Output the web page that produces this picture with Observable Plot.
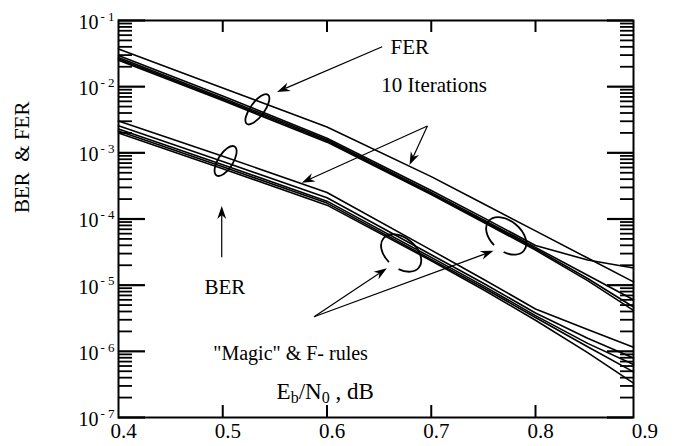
<!DOCTYPE html>
<html><head><meta charset="utf-8">
<script src="https://cdn.jsdelivr.net/npm/d3@7"></script>
<script src="https://cdn.jsdelivr.net/npm/@observablehq/plot@0.6"></script>
<style>
html,body{margin:0;padding:0;background:#fff;}
#chart svg{display:block;}
</style></head><body><div id="chart"></div>
<script>
// ---- data ----
const ebn0 = [0.4, 0.5, 0.6, 0.7, 0.75, 0.8, 0.85, 0.894];
const fer1 = [3.72e-2, 9.55e-3, 2.45e-3, 4.37e-4, 1.70e-4, 6.61e-5, 2.57e-5, 1.12e-5];
const fer2 = [2.95e-2, 7.24e-3, 1.66e-3, 2.69e-4, 1.05e-4, 3.98e-5, 2.40e-5, 1.82e-5];
const fer3 = [2.75e-2, 6.76e-3, 1.58e-3, 2.51e-4, 9.77e-5, 3.72e-5, 1.41e-5, 6.03e-6];
const fer4 = [2.63e-2, 6.46e-3, 1.51e-3, 2.40e-4, 9.33e-5, 3.55e-5, 1.26e-5, 4.68e-6];
const fer5 = [2.51e-2, 6.17e-3, 1.45e-3, 2.34e-4, 8.91e-5, 3.39e-5, 1.17e-5, 4.17e-6];
const ber1 = [3.02e-3, 8.91e-4, 2.51e-4, 3.39e-5, 1.23e-5, 4.37e-6, 2.14e-6, 1.15e-6];
const ber2 = [2.57e-3, 7.41e-4, 2.09e-4, 2.88e-5, 1.07e-5, 3.80e-6, 1.58e-6, 7.94e-7];
const ber3 = [2.29e-3, 6.61e-4, 1.86e-4, 2.63e-5, 9.77e-6, 3.47e-6, 1.32e-6, 6.31e-7];
const ber4 = [2.14e-3, 6.17e-4, 1.74e-4, 2.45e-5, 9.12e-6, 3.24e-6, 1.17e-6, 4.90e-7];
const ber5 = [2.00e-3, 5.75e-4, 1.62e-4, 2.34e-5, 8.51e-6, 2.95e-6, 9.55e-7, 3.31e-7];

const xDomain = [0.4, 0.894];
const yDomain = [1e-7, 1e-1];
const xTickValues = [0.4, 0.5, 0.6, 0.7, 0.8, 0.9];
const xTickLabels = ["0.4", "0.5", "0.6", "0.7", "0.8", "0.9"];
const xInnerTicks = [0.5, 0.6, 0.7, 0.8];
const yDecades = [1e-7, 1e-6, 1e-5, 1e-4, 1e-3, 1e-2, 1e-1];
const yExpLabels = ["- 7", "- 6", "- 5", "- 4", "- 3", "- 2", "- 1"];
const minorMultipliers = [2, 3, 4, 5, 6, 7, 8, 9];

// annotations
const noteTexts = ["FER", "10 Iterations", "BER", "\"Magic\" & F- rules"];
const noteX = [0.661, 0.6521, 0.4825, 0.4909];
const noteY = [3.91e-2, 1.04e-2, 9.33e-6, 9.18e-7];
const noteSize = [21, 21, 21, 20];
const arrowX1 = [0.6534, 0.6968, 0.6968, 0.4995, 0.5881, 0.5881];
const arrowY1 = [3.95e-2, 2.50e-3, 2.50e-3, 2.59e-5, 3.28e-6, 3.28e-6];
const arrowX2 = [0.5526, 0.6796, 0.5763, 0.4995, 0.6579, 0.7602];
const arrowY2 = [8.17e-3, 6.44e-4, 3.48e-4, 1.55e-4, 1.77e-5, 3.26e-5];
const ellX = [0.5337, 0.5032, 0.6716, 0.7724];
const ellY = [4.47e-3, 7.40e-4, 3.01e-5, 5.45e-5];
const ellDashed = [false, false, true, true];
const xLabelPos = [0.5987, 2.42e-7];
const yTitle = "BER\u00a0 & FER";

// ---- build tables ----
const series = [
  ["FER a", fer1], ["FER b", fer2], ["FER c", fer3], ["FER d", fer4], ["FER e", fer5],
  ["BER a", ber1], ["BER b", ber2], ["BER c", ber3], ["BER d", ber4], ["BER e", ber5]
];
const rows = series.flatMap(([name, vals]) => vals.map((v, i) => ({series: name, x: ebn0[i], y: v})));
const minorTicks = yDecades.slice(0, -1).flatMap(d => minorMultipliers.map(m => d * m));
const notes = noteTexts.map((t, i) => ({t, x: noteX[i], y: noteY[i], s: noteSize[i]}));

const W = 674, H = 446, mL = 118, mR = 41, mT = 20, mB = 29;
const fw = W - mL - mR, fh = H - mT - mB;
const font = "'Liberation Serif', 'Times New Roman', Times, serif";

// inward tick lengths (pixels) expressed in the scales' units
const xPerPx = (xDomain[1] - xDomain[0]) / fw;
const decPerPx = 6 / fh;
const xAt = px => xDomain[0] + px * xPerPx;
const xFromRight = px => xDomain[1] - px * xPerPx;
const yUp = px => yDomain[0] * Math.pow(10, px * decPerPx);
const yDown = px => yDomain[1] / Math.pow(10, px * decPerPx);

const plot = Plot.plot({
  width: W, height: H,
  marginLeft: mL, marginRight: mR, marginTop: mT, marginBottom: mB,
  style: {fontFamily: font, background: "white"},
  x: {domain: xDomain, axis: null},
  y: {type: "log", domain: yDomain, axis: null},
  marks: [
    Plot.line(rows, {x: "x", y: "y", z: "series", stroke: "black", strokeWidth: 1.6}),
    Plot.ruleY(minorTicks, {y: d => d, x1: () => xDomain[0], x2: () => xAt(14), stroke: "black", strokeWidth: 1.8}),
    Plot.ruleY(minorTicks, {y: d => d, x1: () => xFromRight(13), x2: () => xDomain[1], stroke: "black", strokeWidth: 1.8}),
    Plot.ruleY(yDecades, {y: d => d, x1: () => xDomain[0], x2: () => xAt(27), stroke: "black", strokeWidth: 2.2}),
    Plot.ruleY(yDecades, {y: d => d, x1: () => xFromRight(26), x2: () => xDomain[1], stroke: "black", strokeWidth: 2.2}),
    Plot.ruleX(xInnerTicks, {x: d => d, y1: () => yDomain[0], y2: () => yUp(12), stroke: "black", strokeWidth: 2}),
    Plot.ruleX(xInnerTicks, {x: d => d, y1: () => yDown(12), y2: () => yDomain[1], stroke: "black", strokeWidth: 2}),
    Plot.frame({stroke: "black", strokeWidth: 2}),
    Plot.text(xTickValues, {x: d => d, text: (d, i) => xTickLabels[i], frameAnchor: "bottom", dy: 20, dx: 5, fontSize: 21, fill: "black"}),
    Plot.text(yDecades, {y: d => d, text: () => "10", frameAnchor: "left", textAnchor: "end", dx: -20, dy: 2, fontSize: 20, fill: "black"}),
    Plot.text(yDecades, {y: d => d, text: (d, i) => yExpLabels[i], frameAnchor: "left", textAnchor: "start", dx: -18, dy: -4, fontSize: 13, fill: "black"}),
    Plot.text(notes, {x: "x", y: "y", text: "t", fontSize: d => d.s, textAnchor: "start", fill: "black"}),
    Plot.text([yTitle], {text: d => d, frameAnchor: "left", dx: -96, dy: -6, rotate: -90, fontSize: 21, fill: "black"})
  ]
});

document.getElementById("chart").appendChild(plot);

// ---- annotations placed with the plot's own scales ----
const sx = plot.scale("x"), sy = plot.scale("y");
const fx = sx.apply ? v => sx.apply(v) : d3.scaleLinear(sx.domain, sx.range);
const fy = sy.apply ? v => sy.apply(v) : d3.scaleLog(sy.domain, sy.range);
const svg = d3.select(plot);
const g = svg.append("g").attr("fill", "none").attr("stroke", "black");

const ellRx = [18, 17, 23, 23], ellRy = [7, 7.5, 15, 15], ellRot = [-54, -58, 40, 40];
ellX.forEach((x, i) => {
  const e = g.append("ellipse")
    .attr("transform", `translate(${fx(x)},${fy(ellY[i])}) rotate(${ellRot[i]})`)
    .attr("rx", ellRx[i]).attr("ry", ellRy[i]).attr("stroke-width", 1.8);
  if (ellDashed[i]) e.attr("pathLength", 100).attr("stroke-dasharray", "18 10 72");
});

arrowX1.forEach((x1, i) => {
  const p1 = [fx(x1), fy(arrowY1[i])], p2 = [fx(arrowX2[i]), fy(arrowY2[i])];
  const dx = p2[0] - p1[0], dy = p2[1] - p1[1], L = Math.hypot(dx, dy);
  const u = [dx / L, dy / L], n = [-u[1], u[0]];
  const hl = 13, hw = 4.5;
  g.append("line").attr("x1", p1[0]).attr("y1", p1[1])
    .attr("x2", p2[0] - u[0] * 9).attr("y2", p2[1] - u[1] * 9).attr("stroke-width", 1.2);
  const pts = [
    p2,
    [p2[0] - u[0] * hl + n[0] * hw, p2[1] - u[1] * hl + n[1] * hw],
    [p2[0] - u[0] * 9, p2[1] - u[1] * 9],
    [p2[0] - u[0] * hl - n[0] * hw, p2[1] - u[1] * hl - n[1] * hw]
  ];
  g.append("polygon").attr("points", pts.map(p => p.join(",")).join(" "))
    .attr("fill", "black").attr("stroke", "none");
});

// x-axis title with subscripts
const lab = svg.append("text")
  .attr("x", fx(xLabelPos[0])).attr("y", fy(xLabelPos[1]) + 7)
  .attr("fill", "black")
  .style("font-family", font).style("font-size", "23px");
lab.append("tspan").text("E");
lab.append("tspan").style("font-size", "16px").attr("dy", 4).text("b");
lab.append("tspan").attr("dy", -4).text("/N");
lab.append("tspan").style("font-size", "16px").attr("dy", 4).text("0");
lab.append("tspan").attr("dy", -4).text(" , dB");
</script>
</body></html>
